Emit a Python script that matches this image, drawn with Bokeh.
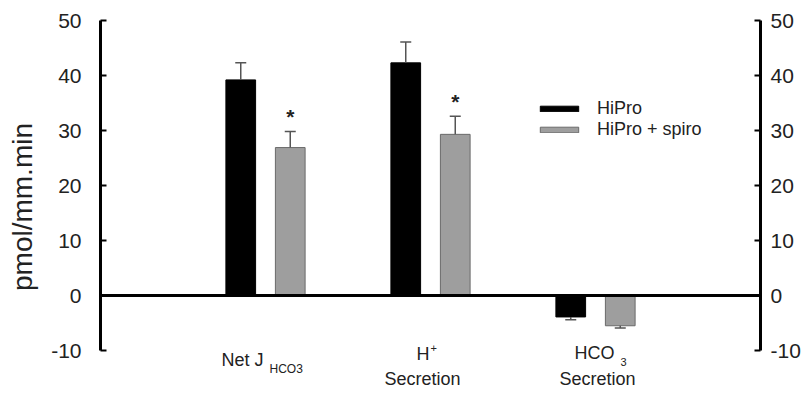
from bokeh.plotting import figure
from bokeh.models import (ColumnDataSource, Range1d, LinearAxis, SingleIntervalTicker,
                          Span, Whisker, TeeHead, Label, Legend, LegendItem,
                          CustomJSTickFormatter)
from bokeh.embed import file_html
from bokeh.resources import INLINE

# ---- data ----
categories = ["Net J HCO3", "H+ Secretion", "HCO3 Secretion"]
hipro = [39.2, 42.3, -3.9]
hipro_err = [3.1, 3.8, 0.5]
spiro = [26.9, 29.3, -5.5]
spiro_err = [2.9, 3.3, 0.4]
significant = [True, True, False]
series_names = ["HiPro", "HiPro + spiro"]
y_min, y_max = -10, 50
y_ticks_interval = 10

FONT = "Liberation Sans"
PX_PER_UNIT = 5.5
EXTRA_BOTTOM_PX = 43  # room under the axis for the category labels

p = figure(width=805, height=393, output_backend="svg", toolbar_location=None,
           x_range=Range1d(0, 4),
           y_range=Range1d(y_min - EXTRA_BOTTOM_PX / PX_PER_UNIT, y_max),
           x_axis_location=None, min_border_left=100, min_border_right=45,
           min_border_top=20, min_border_bottom=0)
p.outline_line_color = None
p.grid.visible = False
p.background_fill_color = "white"
p.border_fill_color = "white"

xs = list(range(1, len(categories) + 1))
off = 0.15
bw = 0.18

src_a = ColumnDataSource(dict(x=[x - off for x in xs], top=hipro, err=hipro_err))
src_b = ColumnDataSource(dict(x=[x + off for x in xs], top=spiro, err=spiro_err))

r_a = p.vbar(x="x", top="top", bottom=0, width=bw, source=src_a,
             fill_color="black", line_color="black", line_width=1)
r_b = p.vbar(x="x", top="top", bottom=0, width=bw, source=src_b,
             fill_color="#9e9e9e", line_color="#6a6a6a", line_width=1)

# error bars
def add_whiskers(xv, vals, errs):
    pos = [(x, v, v + e) for x, v, e in zip(xv, vals, errs) if v >= 0]
    neg = [(x, v - e, v) for x, v, e in zip(xv, vals, errs) if v < 0]
    for items, upper_cap in ((pos, True), (neg, False)):
        if not items:
            continue
        s = ColumnDataSource(dict(base=[i[0] for i in items],
                                  lower=[i[1] for i in items],
                                  upper=[i[2] for i in items]))
        head = TeeHead(size=11, line_color="#555555", line_width=1.5)
        w = Whisker(source=s, base="base", lower="lower", upper="upper",
                    line_color="#555555", line_width=1.5, level="glyph",
                    upper_head=head if upper_cap else None,
                    lower_head=None if upper_cap else head)
        p.add_layout(w)

add_whiskers([x - off for x in xs], hipro, hipro_err)
add_whiskers([x + off for x in xs], spiro, spiro_err)

# significance stars
star_x = [x + off for x, s in zip(xs, significant) if s]
star_y = [v + e for v, e, s in zip(spiro, spiro_err, significant) if s]
p.text(x=star_x, y=star_y, text=["*"] * len(star_x), text_align="center",
       text_baseline="middle", y_offset=-15, text_font_size="21px",
       text_font={"value": FONT}, text_font_style="bold", text_color="#222222")

# zero line
p.add_layout(Span(location=0, dimension="width", line_color="black", line_width=3))

# axes
def style_axis(ax, standoff):
    ax.ticker = SingleIntervalTicker(interval=y_ticks_interval)
    ax.formatter = CustomJSTickFormatter(code="return tick.toFixed(0);")
    ax.bounds = (y_min, y_max)
    ax.axis_line_width = 3
    ax.axis_line_color = "black"
    ax.major_tick_in = 6
    ax.major_tick_out = 0
    ax.major_tick_line_width = 2
    ax.minor_tick_line_color = None
    ax.major_label_text_font = FONT
    ax.major_label_text_font_size = "21px"
    ax.major_label_text_color = "#222222"
    ax.major_label_standoff = standoff

style_axis(p.yaxis[0], 15)
p.yaxis[0].axis_label = "pmol/mm.min"
p.yaxis[0].axis_label_text_font = FONT
p.yaxis[0].axis_label_text_font_size = "28px"
p.yaxis[0].axis_label_text_font_style = "normal"
p.yaxis[0].axis_label_text_color = "#222222"
p.yaxis[0].axis_label_standoff = 10

right = LinearAxis()
style_axis(right, 6)
p.add_layout(right, "right")

# category labels (with sub/superscripts)
def lab(text, x, y, xo, size, align="left"):
    p.add_layout(Label(x=x, y=y, x_offset=xo, text=text, text_font=FONT,
                       text_font_size=size, text_color="#222222",
                       text_align=align, text_baseline="middle"))

lab("Net J", xs[0], -11.8, -44, "18px")
lab("HCO3", xs[0], -13.3, 4, "12px")
lab("H", xs[1], -10.7, -14, "18px")
lab("+", xs[1], -9.6, 0, "11px")
lab("Secretion", xs[1], -15.1, -8, "18px", "center")
lab("HCO", xs[2], -10.5, -21, "18px")
lab("3", xs[2], -12.0, 25, "11px")
lab("Secretion", xs[2], -15.1, 2, "18px", "center")

legend = Legend(items=[LegendItem(label=series_names[0], renderers=[r_a]),
                       LegendItem(label=series_names[1], renderers=[r_b])],
                location=(435, 210 + EXTRA_BOTTOM_PX), glyph_width=48, glyph_height=7,
                label_standoff=14, spacing=0, padding=0, margin=0,
                border_line_color=None, background_fill_alpha=0,
                label_text_font=FONT, label_text_font_size="18px",
                label_text_color="#222222")
p.add_layout(legend)

open("out.html", "w").write(file_html(p, INLINE))
